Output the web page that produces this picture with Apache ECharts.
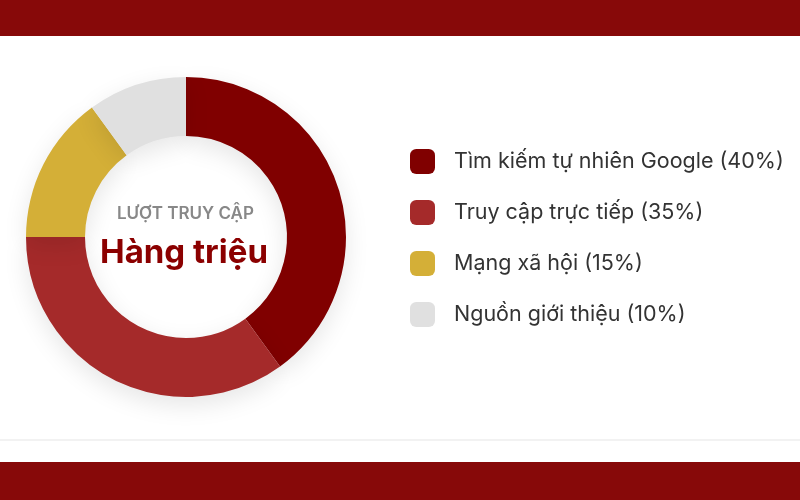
<!DOCTYPE html>
<html>
<head>
<meta charset="utf-8">
<script src="https://cdn.jsdelivr.net/npm/echarts@6/dist/echarts.min.js"></script>
<style>
    html, body { margin: 0; padding: 0; background: #fff; }
    #chart { width: 800px; height: 500px; }
</style>
</head>
<body>
<div id="chart"></div>
<script>
// nguồn truy cập
let sourceNames = ['Tìm kiếm tự nhiên Google', 'Truy cập trực tiếp', 'Mạng xã hội', 'Nguồn giới thiệu'];
let sourceValues = [40, 35, 15, 10];
let sourceColors = ['#800000', '#a52a2a', '#d4af37', '#e0e0e0'];

let chart = echarts.init(document.getElementById('chart'));

let pieData = [];
for (let i = 0; i < sourceNames.length; i++) {
    pieData.push({ name: sourceNames[i], value: sourceValues[i] });
}

let option = {
    color: sourceColors,
    textStyle: { fontFamily: 'Inter' },
    legend: {
        orient: 'vertical',
        left: 410,
        top: 149,
        padding: 0,
        icon: 'roundRect',
        itemWidth: 25,
        itemHeight: 25,
        itemGap: 26,
        formatter: function (name) {
            let idx = sourceNames.indexOf(name);
            return name + ' (' + sourceValues[idx] + '%)';
        },
        textStyle: {
            fontSize: 21.5,
            color: '#333',
            padding: [0, 0, 0, 14]
        }
    },
    graphic: [
        { type: 'rect', left: 0, top: 0, shape: { width: 800, height: 36 }, style: { fill: '#870909' } },
        { type: 'rect', left: 0, top: 439, shape: { width: 800, height: 2 }, style: { fill: '#f2f2f2' } },
        { type: 'rect', left: 0, top: 462, shape: { width: 800, height: 38 }, style: { fill: '#870909' } },
        {
            type: 'text', left: 117, top: 205, z: 10,
            style: { text: 'LƯỢT TRUY CẬP', fill: '#888', fontSize: 17, fontWeight: 600, fontFamily: 'Inter' }
        },
        {
            type: 'text', left: 100, top: 237, z: 10,
            style: { text: 'Hàng triệu', fill: '#8b0000', fontSize: 33, fontWeight: 'bold', fontFamily: 'Inter' }
        }
    ],
    series: [
        {
            type: 'pie',
            center: [186, 237],
            radius: [101, 160],
            startAngle: 90,
            clockwise: true,
            silent: true,
            label: { show: false },
            labelLine: { show: false },
            itemStyle: {
                shadowBlur: 25,
                shadowOffsetY: 8,
                shadowColor: 'rgba(0,0,0,0.10)'
            },
            data: pieData
        }
    ]
};
chart.setOption(option);
window.addEventListener('resize', function () { chart.resize(); });
</script>
</body>
</html>
